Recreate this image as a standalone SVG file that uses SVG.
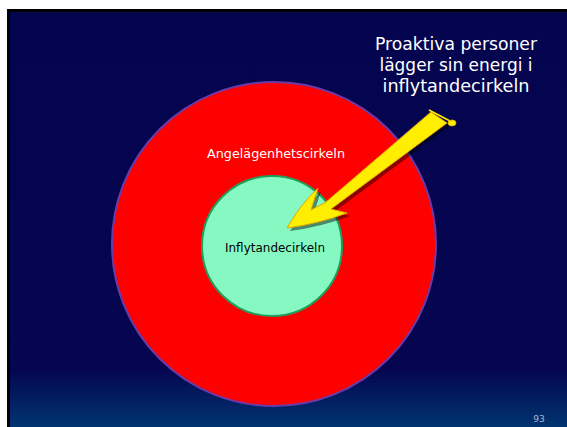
<svg xmlns="http://www.w3.org/2000/svg" width="567" height="427" viewBox="0 0 567 427">
<defs>
<linearGradient id="bg" x1="0" y1="0" x2="0" y2="1">
<stop offset="0" stop-color="#05054f"/>
<stop offset="0.86" stop-color="#05064f"/>
<stop offset="1" stop-color="#003470"/>
</linearGradient>
<style>
.w{fill:#ffffff;font-family:"DejaVu Sans",sans-serif}
.k{fill:#000000;font-family:"DejaVu Sans",sans-serif}
</style>
</defs>
<rect x="0" y="0" width="567" height="427" fill="#ffffff"/>
<rect x="7" y="9" width="560" height="418" fill="#000000"/>
<rect x="10" y="12" width="557" height="415" fill="url(#bg)"/>
<g id="angelagenhetscirkeln">
<circle cx="274" cy="244" r="162" fill="#ff0000" stroke="#6a3aa8" stroke-width="2"/>
<text class="w" x="276" y="158" font-size="13" text-anchor="middle" textLength="138" lengthAdjust="spacingAndGlyphs">Angelägenhetscirkeln</text>
</g>
<g id="inflytandecirkeln">
<circle cx="272" cy="246" r="70" fill="#86f9c2" stroke="#1fa05a" stroke-width="2"/>
<text class="k" x="275" y="252" font-size="12" text-anchor="middle" textLength="100" lengthAdjust="spacingAndGlyphs">Inflytandecirkeln</text>
</g>
<g id="connectors">
<path d="M431,112 L326,202 L311,210 L318,188 Q300,205 287,228 Q318,224 347,213 L331,209 L447,123 Z" fill="#000000" opacity="0.45" transform="translate(3,3)"/>
<path d="M431,112 L326,202 L311,210 L318,188 Q300,205 287,228 Q318,224 347,213 L331,209 L447,123 Z" fill="#ffee00" stroke="#e0a800" stroke-width="1" stroke-linejoin="round"/>
<line x1="429" y1="110" x2="450" y2="121" stroke="#ffee00" stroke-width="1.5"/>
<ellipse cx="452" cy="123" rx="4" ry="3" fill="#ffee00" stroke="#e0a800" stroke-width="0.8"/>
</g>
<g id="caption">
<text class="w" x="456" y="50" font-size="18" text-anchor="middle" textLength="162" lengthAdjust="spacingAndGlyphs">Proaktiva personer</text>
<text class="w" x="456" y="71" font-size="18" text-anchor="middle" textLength="153" lengthAdjust="spacingAndGlyphs">lägger sin energi i</text>
<text class="w" x="456" y="92" font-size="18" text-anchor="middle" textLength="147" lengthAdjust="spacingAndGlyphs">inflytandecirkeln</text>
</g>
<text x="539" y="422" font-size="9" fill="#a8b8d8" font-family="DejaVu Sans,sans-serif" text-anchor="middle">93</text>
</svg>
